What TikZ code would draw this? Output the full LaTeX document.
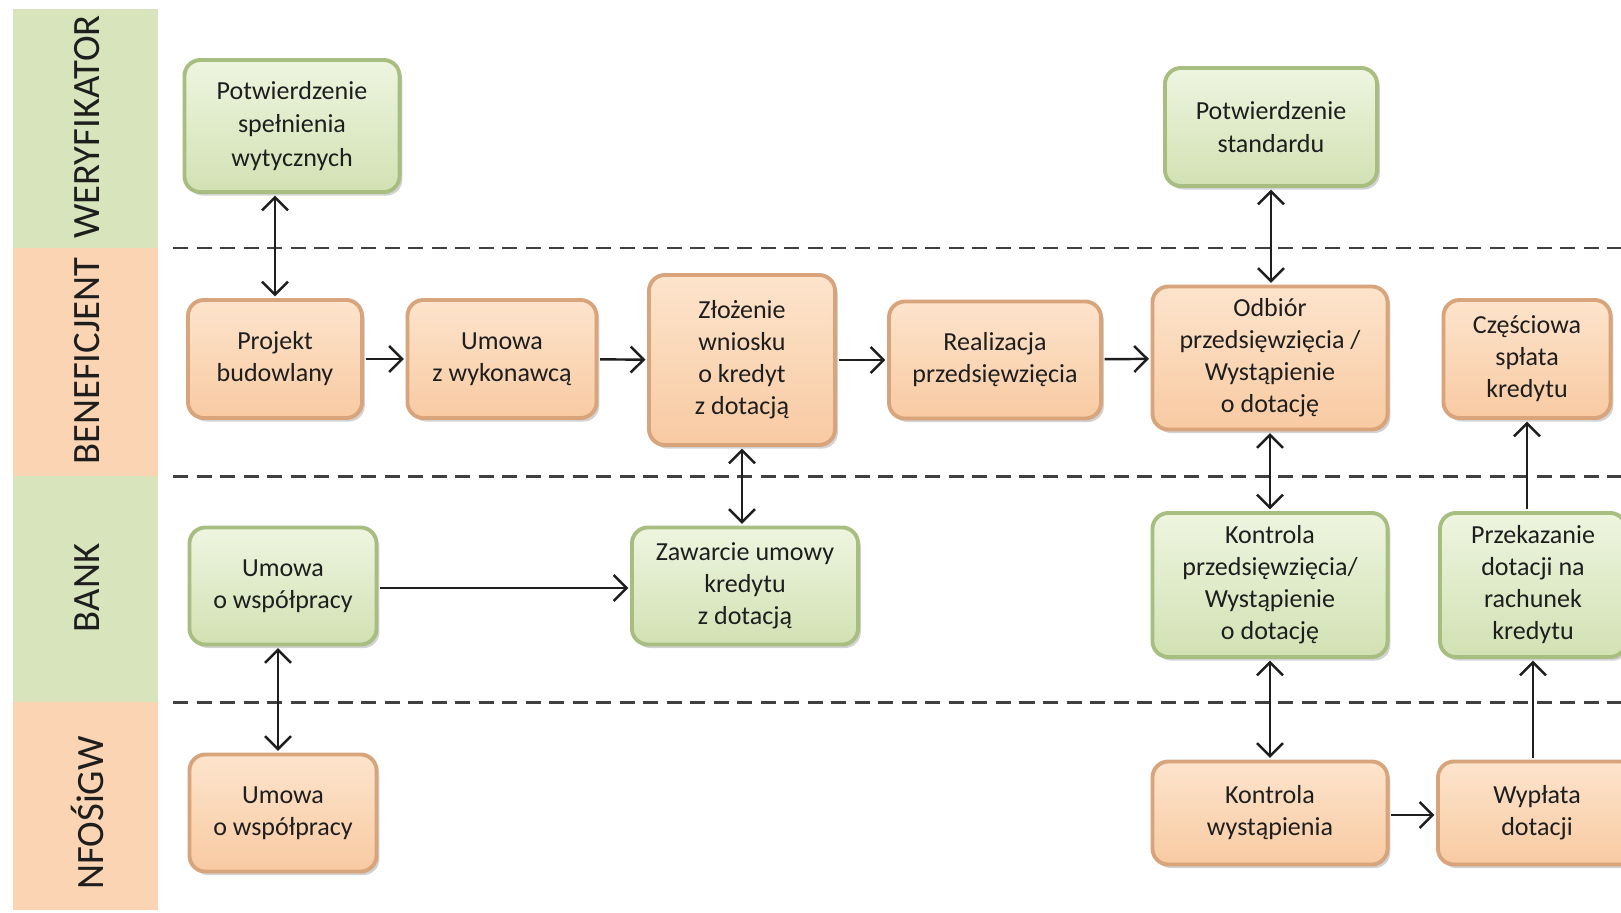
\documentclass[tikz,border=0pt]{standalone}
\usepackage{fontspec}
\setmainfont{Carlito}
\usetikzlibrary{arrows.meta,shadows,calc}
\definecolor{lanegreen}{HTML}{D8E4BC}
\definecolor{laneorange}{HTML}{FBD4B4}
\definecolor{gtop}{HTML}{EEF5E0}
\definecolor{gbot}{HTML}{D2E1B3}
\definecolor{gedge}{HTML}{A8BD80}
\definecolor{otop}{HTML}{FDE4CC}
\definecolor{obot}{HTML}{F8CAA2}
\definecolor{oedge}{HTML}{D7A47B}
\definecolor{ink}{HTML}{1E1E1E}
\begin{document}
\begin{tikzpicture}[x=0.01cm,y=-0.01cm,
  box/.style={rounded corners=0.16cm, align=center, font=\fontsize{7.4}{9.1}\selectfont, text=ink,
    inner sep=0pt, outer sep=1pt, line width=1.1pt,
    drop shadow={shadow xshift=0.8pt,shadow yshift=-1pt,opacity=0.35}},
  gbox/.style={box, draw=gedge, top color=gtop, bottom color=gbot},
  obox/.style={box, draw=oedge, top color=otop, bottom color=obot},
  conn/.style={draw=ink, line width=0.7pt, -{Straight Barb[length=1.3mm,width=2.6mm]}},
  biconn/.style={draw=ink, line width=0.7pt, {Straight Barb[length=1.3mm,width=2.6mm]}-{Straight Barb[length=1.3mm,width=2.6mm]}},
  sep/.style={draw=ink!85, dash pattern=on 1.5mm off 0.85mm, line width=0.85pt},
  lanelbl/.style={rotate=90, font=\fontsize{11}{13}\selectfont, text=ink}
]
\useasboundingbox[fill=white] (0,0) rectangle (1621,912);

% lanes
\fill[lanegreen]  (13,9)   rectangle (158,248);
\fill[laneorange] (13,248) rectangle (158,476);
\fill[lanegreen]  (13,476) rectangle (158,702);
\fill[laneorange] (13,702) rectangle (158,910);
\node[lanelbl] (lwer)  at (87,127) {WERYFIKATOR};
\node[lanelbl] (lben)  at (87,361) {BENEFICJENT};
\node[lanelbl] (lbank) at (87,588) {BANK};
\node[lanelbl] (lnf)   at (87,813) {NFOŚiGW};

% separators
\coordinate (s1a) at (173,248); \coordinate (s1b) at (1621,248);
\coordinate (s2a) at (173,476); \coordinate (s2b) at (1621,476);
\coordinate (s3a) at (173,702); \coordinate (s3b) at (1621,702);
\draw[sep] (s1a) -- (s1b);
\draw[sep] (s2a) -- (s2b);
\draw[sep] (s3a) -- (s3b);

% nodes
\node[gbox, minimum width=2.15cm, minimum height=1.32cm, font=\fontsize{7.4}{9.6}\selectfont] (wer1) at (292,126) {Potwierdzenie\\spełnienia\\wytycznych};
\node[gbox, minimum width=2.12cm, minimum height=1.18cm, font=\fontsize{7.4}{9.6}\selectfont] (wer2) at (1271,127) {Potwierdzenie\\standardu};

\node[obox, minimum width=1.74cm, minimum height=1.18cm] (ben1) at (275,359) {Projekt\\budowlany};
\node[obox, minimum width=1.89cm, minimum height=1.18cm] (ben2) at (502,359) {Umowa\\z wykonawcą};
\node[obox, minimum width=1.86cm, minimum height=1.70cm] (ben3) at (742,360) {Złożenie\\wniosku\\o kredyt\\z dotacją};
\node[obox, minimum width=2.12cm, minimum height=1.17cm] (ben4) at (995,360) {Realizacja\\przedsięwzięcia};
\node[obox, minimum width=2.35cm, minimum height=1.43cm] (ben5) at (1270,358) {Odbiór\\przedsięwzięcia /\\Wystąpienie\\o dotację};
\node[obox, minimum width=1.67cm, minimum height=1.18cm] (ben6) at (1527,359) {Częściowa\\spłata\\kredytu};

\node[gbox, minimum width=1.87cm, minimum height=1.17cm] (bank1) at (283,586) {Umowa\\o współpracy};
\node[gbox, minimum width=2.26cm, minimum height=1.17cm] (bank2) at (745,586) {Zawarcie umowy\\kredytu\\z dotacją};
\node[gbox, minimum width=2.35cm, minimum height=1.44cm] (bank3) at (1270,585) {Kontrola\\przedsięwzięcia/\\Wystąpienie\\o dotację};
\node[gbox, minimum width=1.86cm, minimum height=1.44cm] (bank4) at (1533,585) {Przekazanie\\dotacji na\\rachunek\\kredytu};

\node[obox, minimum width=1.87cm, minimum height=1.17cm] (nf1) at (283,813) {Umowa\\o współpracy};
\node[obox, minimum width=2.35cm, minimum height=1.03cm] (nf2) at (1270,813) {Kontrola\\wystąpienia};
\node[obox, minimum width=1.98cm, minimum height=1.03cm] (nf3) at (1537,813) {Wypłata\\dotacji};

% connectors
\draw[biconn] (wer1.south -| ben1.north) -- (ben1.north);
\draw[conn] (ben1) -- (ben2);
\draw[conn] (ben2) -- (ben3);
\draw[conn] (ben3) -- (ben4);
\draw[conn] (ben4) -- (ben5);
\draw[biconn] (wer2.south) -- (wer2.south |- ben5.north);
\draw[biconn] (ben3.south) -- (ben3.south |- bank2.north);
\draw[biconn] (ben5.south) -- (ben5.south |- bank3.north);
\draw[biconn] (bank3.south) -- (bank3.south |- nf2.north);
\draw[conn] (bank1.east |- 0,588) -- (bank2.west |- 0,588);
\draw[biconn] ($(bank1.south)+(-5,0)$) -- ($(nf1.north)+(-5,0)$);
\draw[conn] (nf2.east |- 0,815) -- (nf3.west |- 0,815);
\draw[conn] (bank4.south |- nf3.north) -- (bank4.south);
\draw[conn] (ben6.south |- bank4.north) -- (ben6.south);
\end{tikzpicture}
\end{document}
